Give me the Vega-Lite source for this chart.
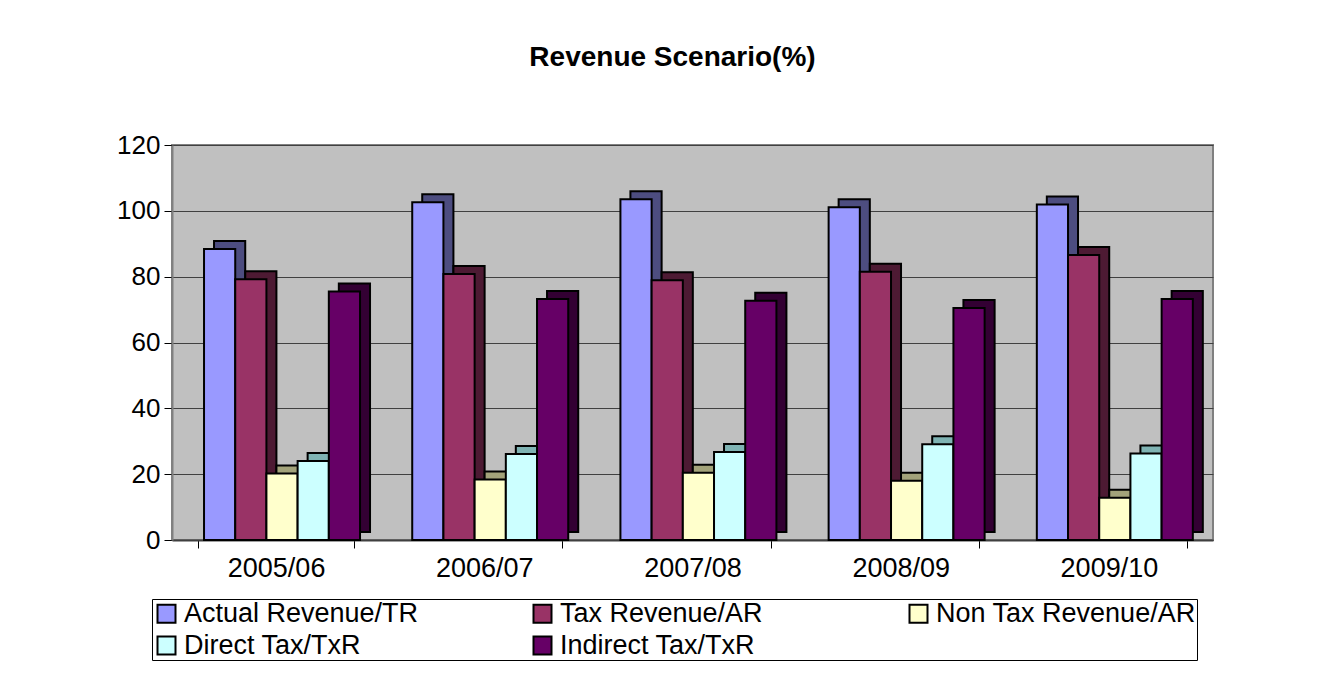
{
  "$schema": "https://vega.github.io/schema/vega-lite/v6.json",
  "width": 1041,
  "height": 395,
  "autosize": {"type": "none"},
  "padding": {"left": 172, "top": 145, "right": 130, "bottom": 139},
  "background": "white",
  "title": {
    "text": "Revenue Scenario(%)",
    "font": "Liberation Sans",
    "fontSize": 28,
    "fontWeight": "bold",
    "color": "black",
    "anchor": "middle",
    "frame": "group",
    "dx": -20,
    "offset": 60
  },
  "config": {
    "view": {"fill": "#c0c0c0", "stroke": "#808080", "strokeWidth": 2},
    "axis": {"labelFont": "Liberation Sans", "labelColor": "black"}
  },
  "data": {
    "values": [
      {"year": "2005/06", "series": "Actual Revenue/TR", "value": 88.4},
      {"year": "2005/06", "series": "Tax Revenue/AR", "value": 79.2},
      {"year": "2005/06", "series": "Non Tax Revenue/AR", "value": 20.2},
      {"year": "2005/06", "series": "Direct Tax/TxR", "value": 24.0},
      {"year": "2005/06", "series": "Indirect Tax/TxR", "value": 75.5},
      {"year": "2006/07", "series": "Actual Revenue/TR", "value": 102.6},
      {"year": "2006/07", "series": "Tax Revenue/AR", "value": 80.8},
      {"year": "2006/07", "series": "Non Tax Revenue/AR", "value": 18.4},
      {"year": "2006/07", "series": "Direct Tax/TxR", "value": 26.1},
      {"year": "2006/07", "series": "Indirect Tax/TxR", "value": 73.2},
      {"year": "2007/08", "series": "Actual Revenue/TR", "value": 103.5},
      {"year": "2007/08", "series": "Tax Revenue/AR", "value": 78.9},
      {"year": "2007/08", "series": "Non Tax Revenue/AR", "value": 20.4},
      {"year": "2007/08", "series": "Direct Tax/TxR", "value": 26.7},
      {"year": "2007/08", "series": "Indirect Tax/TxR", "value": 72.7},
      {"year": "2008/09", "series": "Actual Revenue/TR", "value": 101.1},
      {"year": "2008/09", "series": "Tax Revenue/AR", "value": 81.5},
      {"year": "2008/09", "series": "Non Tax Revenue/AR", "value": 18.0},
      {"year": "2008/09", "series": "Direct Tax/TxR", "value": 29.1},
      {"year": "2008/09", "series": "Indirect Tax/TxR", "value": 70.5},
      {"year": "2009/10", "series": "Actual Revenue/TR", "value": 101.9},
      {"year": "2009/10", "series": "Tax Revenue/AR", "value": 86.6},
      {"year": "2009/10", "series": "Non Tax Revenue/AR", "value": 12.8},
      {"year": "2009/10", "series": "Direct Tax/TxR", "value": 26.3},
      {"year": "2009/10", "series": "Indirect Tax/TxR", "value": 73.2}
    ]
  },
  "encoding": {
    "x": {
      "field": "year",
      "type": "nominal",
      "sort": null,
      "scale": {"paddingInner": 0.25, "paddingOuter": 0.125},
      "axis": {
        "title": null,
        "labelAngle": 0,
        "labelFontSize": 27,
        "labelPadding": 7,
        "tickBand": "extent",
        "tickSize": 8,
        "tickColor": "black",
        "domainColor": "#404040",
        "domainWidth": 2
      }
    },
    "y": {
      "field": "value",
      "type": "quantitative",
      "scale": {"domain": [0, 120], "nice": false},
      "axis": {
        "title": null,
        "values": [0, 20, 40, 60, 80, 100, 120],
        "labelFontSize": 26,
        "labelPadding": 4,
        "tickSize": 8,
        "tickColor": "black",
        "domainColor": "#808080",
        "domainWidth": 2,
        "gridColor": "#404040",
        "gridWidth": 1
      }
    }
  },
  "layer": [
    {
      "mark": {"type": "bar", "yOffset": -8, "stroke": "black", "strokeWidth": 2},
      "encoding": {
        "xOffset": {
          "field": "series",
          "type": "nominal",
          "sort": ["Actual Revenue/TR", "Tax Revenue/AR", "Non Tax Revenue/AR", "Direct Tax/TxR", "Indirect Tax/TxR"],
          "scale": {"paddingInner": 0, "paddingOuter": 0, "range": [16, 172]}
        },
        "fill": {
          "field": "series",
          "type": "nominal",
          "scale": {
            "domain": ["Actual Revenue/TR", "Tax Revenue/AR", "Non Tax Revenue/AR", "Direct Tax/TxR", "Indirect Tax/TxR"],
            "range": ["#4d4d80", "#4d1a33", "#a3a37a", "#7fb3b3", "#330033"]
          },
          "legend": null
        }
      }
    },
    {
      "mark": {"type": "bar", "stroke": "black", "strokeWidth": 2},
      "encoding": {
        "xOffset": {
          "field": "series",
          "type": "nominal",
          "sort": ["Actual Revenue/TR", "Tax Revenue/AR", "Non Tax Revenue/AR", "Direct Tax/TxR", "Indirect Tax/TxR"],
          "scale": {"paddingInner": 0, "paddingOuter": 0, "range": [6, 162]}
        },
        "color": {
          "field": "series",
          "type": "nominal",
          "scale": {
            "domain": ["Actual Revenue/TR", "Tax Revenue/AR", "Non Tax Revenue/AR", "Direct Tax/TxR", "Indirect Tax/TxR"],
            "range": ["#9999ff", "#993366", "#ffffcc", "#ccffff", "#660066"]
          },
          "legend": {
            "title": null,
            "orient": "none",
            "legendX": -20,
            "legendY": 454,
            "direction": "horizontal",
            "columns": 3,
            "gridAlign": "all",
            "columnPadding": 85,
            "rowPadding": 4,
            "padding": 1,
            "strokeColor": "black",
            "fillColor": "white",
            "symbolType": "square",
            "symbolSize": 324,
            "symbolStrokeColor": "black",
            "symbolStrokeWidth": 2,
            "symbolOpacity": 1,
            "labelFont": "Liberation Sans",
            "labelFontSize": 27,
            "labelColor": "black",
            "labelOffset": 4,
            "labelLimit": 400
          }
        }
      }
    }
  ],
  "resolve": {"scale": {"fill": "independent", "color": "independent", "xOffset": "independent"}}
}
